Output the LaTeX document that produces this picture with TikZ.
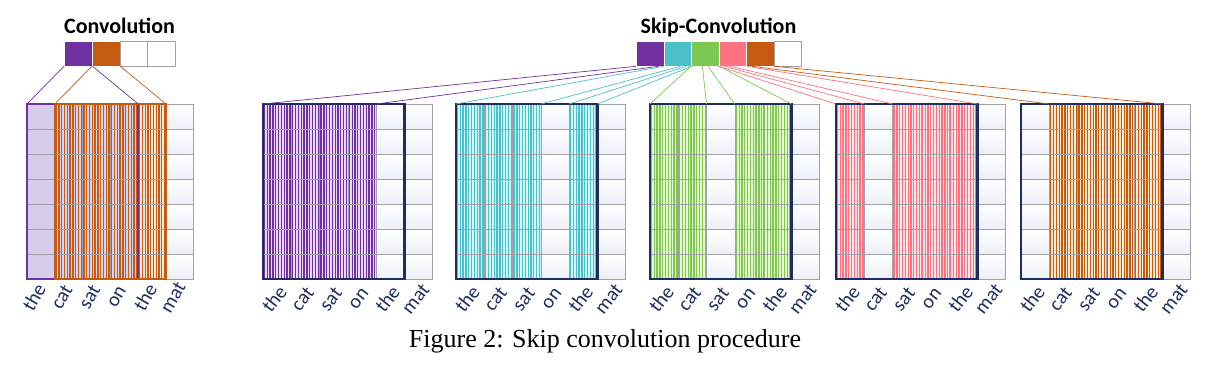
\documentclass[tikz,border=0pt]{standalone}
\usepackage{fontspec}
\newfontfamily\carlito{Carlito}
\newfontfamily\timesfont{Liberation Serif}
\usetikzlibrary{calc}

\definecolor{purp}{RGB}{112,48,160}
\definecolor{cyanc}{RGB}{75,192,200}
\definecolor{greenc}{RGB}{125,200,80}
\definecolor{pinkc}{RGB}{255,112,128}
\definecolor{orng}{RGB}{197,90,17}
\definecolor{navy}{RGB}{31,45,96}
\definecolor{gridgray}{RGB}{160,160,165}
\definecolor{cellshade}{RGB}{236,240,248}
\definecolor{purpbg}{RGB}{236,214,250}
\definecolor{cyanbg}{RGB}{205,248,252}
\definecolor{greenbg}{RGB}{230,248,205}
\definecolor{pinkbg}{RGB}{255,230,234}
\definecolor{orngbg}{RGB}{255,234,206}
\definecolor{lavender}{RGB}{216,204,236}
\definecolor{lavblue}{RGB}{214,212,240}
\definecolor{peach}{RGB}{253,233,218}

\tikzset{
  cellbox/.style={draw=gridgray, line width=0.8pt, top color=white, bottom color=cellshade},
  gridline/.style={draw=gridgray, line width=0.8pt},
  navybox/.style={draw=navy, line width=2.6pt},
  word/.style={text=navy, font=\carlito\fontsize{20}{23}\selectfont, inner sep=0pt},
  fcell/.style={line width=0.8pt, minimum height=25pt, inner sep=0pt, anchor=north west},
  link/.style={line width=0.7pt},
  title/.style={font=\carlito\bfseries\fontsize{22}{26}\selectfont, anchor=base, inner sep=0pt},
}

% 6x7 grid of word cells with named column tops
\newcommand{\wordgrid}[3]{%
  \foreach \cl in {0,...,5}
    \foreach \rw in {0,...,6}
      \draw[cellbox] ({#2+\cl*#3},{104+\rw*25}) rectangle ++(#3,25);
  \foreach \cl in {0,...,6}
    \coordinate (#1-\cl) at ({#2+\cl*#3},104);
}
% one hatched column: left x, cell width, column, line colour, back colour
\newcommand{\hatchcol}[5]{%
  \fill[#5] ({#1+#3*#2},104) rectangle ++(#2,175);
  \foreach \k in {0,...,9}
    \draw[#4, line width=1.3pt] ({#1+(#3+(\k+0.5)/10)*#2},104) -- ++(0,175);
}
\newcommand{\gridlines}[2]{%
  \foreach \cl in {0,...,5}
    \foreach \rw in {0,...,6}
      \draw[gridline] ({#1+\cl*#2},{104+\rw*25}) rectangle ++(#2,25);
}
% labels: name, left x, cell width, shift, centre y, angle
\newcommand{\words}[6]{%
  \foreach \wrd [count=\cl from 0] in {the,cat,sat,on,the,mat}
    \node[word, rotate=#6] (#1-w\cl) at ({#2+(\cl+0.5)*#3+#4},#5) {\wrd};
}
% skip grid: name, left x, colour, back colour, hatched columns
\newcommand{\skipgrid}[5]{%
  \wordgrid{#1}{#2}{28.3}
  \foreach \cl in {#5} {\hatchcol{#2}{28.3}{\cl}{#3}{#4}}
  \gridlines{#2}{28.3}
  \draw[navybox] (#1-0) rectangle ($(#1-5)+(0,175)$);
  \words{#1}{#2}{28.3}{-3}{299}{52}
}
\newcommand{\links}[4]{%
  \foreach \k in {#4}
    \draw[link, #3] ($(#1.south west)!\k/5!(#1.south east)$) -- (#2-\k);
}

\begin{document}
\begin{tikzpicture}[x=1pt,y=-1pt]
  \useasboundingbox (0,0) rectangle (1222,364);

  \node[title] (convtitle) at (119.5,33) {Convolution};
  \node[title] (skiptitle) at (718.5,33) {Skip-Convolution};

  % filters
  \foreach \fc/\ed [count=\i] in {purp/white,orng/white,white/gridgray,white/gridgray}
    \node[fcell, fill=\fc, draw=\ed, minimum width=27.8pt] (conv\i) at ({64+(\i-1)*27.8},40.5) {};
  \foreach \fc/\ed [count=\i] in {purp/white,cyanc/white,greenc/white,pinkc/white,orng/white,white/gridgray}
    \node[fcell, fill=\fc, draw=\ed, minimum width=27.5pt] (skip\i) at ({636+(\i-1)*27.5},40.5) {};

  % convolution grid
  \wordgrid{lg}{27}{27.8}
  \fill[lavender] (lg-0) rectangle ($(lg-1)+(0,175)$);
  \foreach \cl/\bg in {1/lavblue,2/lavblue,3/lavblue,4/peach} {\hatchcol{27}{27.8}{\cl}{orng}{\bg}}
  \gridlines{27}{27.8}
  \draw[purp, line width=1.6pt] (lg-0) rectangle ($(lg-4)+(0,175)$);
  \draw[orng, line width=1.6pt] (lg-1) rectangle ($(lg-5)+(0,175)$);
  \words{lg}{27}{27.8}{-7}{297}{60}
  \draw[link, purp] (conv1.south west) -- (lg-0);
  \draw[link, purp] (conv1.south east) -- (lg-4);
  \draw[link, orng] (conv2.south west) -- (lg-1);
  \draw[link, orng] (conv2.south east) -- (lg-5);

  % skip-convolution grids
  \skipgrid{ga}{263}{purp}{purpbg}{0,1,2,3}
  \skipgrid{gb}{456}{cyanc}{cyanbg}{0,1,2,4}
  \skipgrid{gc}{650}{greenc}{greenbg}{0,1,3,4}
  \skipgrid{gd}{836}{pinkc}{pinkbg}{0,2,3,4}
  \skipgrid{ge}{1021}{orng}{orngbg}{1,2,3,4}

  \links{skip1}{ga}{purp}{0,4}
  \links{skip2}{gb}{cyanc}{0,3,4,5}
  \links{skip3}{gc}{greenc}{0,2,3,5}
  \links{skip4}{gd}{pinkc}{0,1,2,5}
  \links{skip5}{ge}{orng}{1,5}

  \node[font=\timesfont\fontsize{26}{30}\selectfont, anchor=base, inner sep=0pt] (caption) at (605,347) {Figure 2: Skip convolution procedure};
\end{tikzpicture}
\end{document}
